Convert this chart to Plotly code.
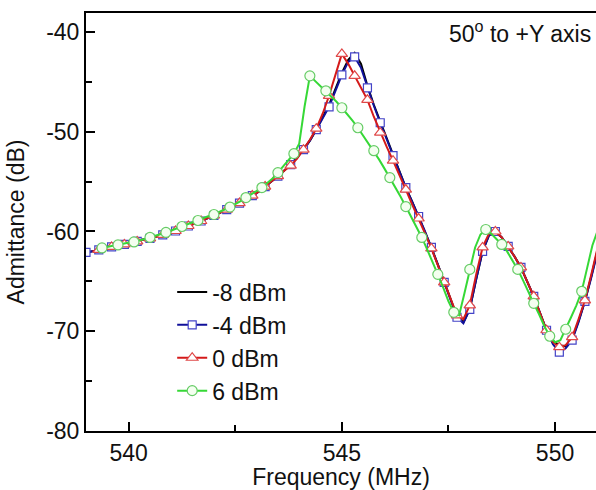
import plotly.graph_objects as go

# ---------------- data ----------------
# frequency sweep (MHz) used for -8, -4 and 0 dBm traces
freq_a = [539.00, 539.15, 539.30, 539.45, 539.60, 539.75, 539.90, 540.05, 540.20, 540.35,
          540.50, 540.65, 540.80, 540.95, 541.10, 541.25, 541.40, 541.55, 541.70, 541.85,
          542.00, 542.15, 542.30, 542.45, 542.60, 542.75, 542.90, 543.05, 543.20, 543.35,
          543.50, 543.65, 543.80, 543.95, 544.10, 544.25, 544.40, 544.55, 544.70, 544.85,
          545.00, 545.15, 545.30, 545.45, 545.60, 545.75, 545.90, 546.05, 546.20, 546.35,
          546.50, 546.65, 546.80, 546.95, 547.10, 547.25, 547.40, 547.55, 547.70, 547.85,
          548.00, 548.15, 548.30, 548.45, 548.60, 548.75, 548.90, 549.05, 549.20, 549.35,
          549.50, 549.65, 549.80, 549.95, 550.10, 550.25, 550.40, 550.55, 550.70, 550.85,
          551.00]

# frequency sweep (MHz) used for the 6 dBm trace
freq_b = [539.000, 539.125, 539.250, 539.375, 539.500, 539.625, 539.750, 539.875,
          540.000, 540.125, 540.250, 540.375, 540.500, 540.625, 540.750, 540.875,
          541.000, 541.125, 541.250, 541.375, 541.500, 541.625, 541.750, 541.875,
          542.000, 542.125, 542.250, 542.375, 542.500, 542.625, 542.750, 542.875,
          543.000, 543.125, 543.250, 543.375, 543.500, 543.625, 543.750, 543.875,
          544.000, 544.125, 544.250, 544.375, 544.500, 544.625, 544.750, 544.875,
          545.000, 545.125, 545.250, 545.375, 545.500, 545.625, 545.750, 545.875,
          546.000, 546.125, 546.250, 546.375, 546.500, 546.625, 546.750, 546.875,
          547.000, 547.125, 547.250, 547.375, 547.500, 547.625, 547.750, 547.875,
          548.000, 548.125, 548.250, 548.375, 548.500, 548.625, 548.750, 548.875,
          549.000, 549.125, 549.250, 549.375, 549.500, 549.625, 549.750, 549.875,
          550.000, 550.125, 550.250, 550.375, 550.500, 550.625, 550.750, 550.875,
          551.000]

adm_m8 = [-62.1, -62.0, -61.85, -61.7, -61.55, -61.4, -61.3, -61.15, -61.0, -60.85,
          -60.7, -60.5, -60.35, -60.15, -59.95, -59.7, -59.45, -59.2, -58.95, -58.7,
          -58.4, -58.1, -57.8, -57.5, -57.15, -56.8, -56.4, -56.0, -55.5, -55.0,
          -54.45, -53.9, -53.3, -52.6, -51.8, -50.9, -49.8, -48.6, -47.3, -45.7,
          -44.1, -42.8, -42.1, -43.2, -45.4, -47.3, -49.0, -50.7, -52.3, -53.9,
          -55.6, -57.0, -58.5, -60.0, -61.6, -63.3, -65.1, -66.9, -68.5, -69.1,
          -67.8, -64.8, -62.0, -60.4, -60.0, -60.6, -61.5, -62.5, -63.6, -65.0,
          -66.5, -68.2, -69.9, -71.0, -71.4, -71.5, -70.8, -69.0, -67.0, -64.5,
          -61.8]

adm_m4 = [-62.1, -62.0, -61.85, -61.7, -61.55, -61.4, -61.3, -61.15, -61.0, -60.85,
          -60.7, -60.5, -60.35, -60.15, -59.95, -59.7, -59.45, -59.2, -58.95, -58.7,
          -58.4, -58.1, -57.8, -57.5, -57.15, -56.8, -56.4, -56.0, -55.5, -55.0,
          -54.45, -53.9, -53.3, -52.6, -51.8, -50.9, -49.8, -48.7, -47.5, -45.9,
          -44.3, -43.0, -42.5, -43.6, -45.6, -47.4, -49.1, -50.8, -52.4, -54.0,
          -55.6, -57.0, -58.5, -60.0, -61.6, -63.3, -65.1, -66.9, -68.6, -69.2,
          -67.8, -64.8, -62.0, -60.4, -60.0, -60.6, -61.5, -62.5, -63.6, -65.0,
          -66.5, -68.2, -69.9, -71.3, -72.1, -71.7, -70.9, -69.1, -67.0, -64.6,
          -62.0]

# 0 dBm sweep starts one step later (539.15 MHz)
adm_0 = [-62.0, -61.85, -61.7, -61.55, -61.4, -61.3, -61.15, -61.0, -60.85,
         -60.7, -60.5, -60.35, -60.15, -59.95, -59.7, -59.45, -59.2, -58.95, -58.7,
         -58.4, -58.1, -57.8, -57.5, -57.15, -56.8, -56.4, -56.0, -55.5, -55.0,
         -54.45, -53.9, -53.4, -52.7, -51.8, -50.8, -49.7, -48.2, -46.4, -44.3,
         -42.2, -43.2, -44.4, -45.5, -46.8, -48.5, -50.1, -51.5, -52.9, -54.3,
         -55.8, -57.3, -58.7, -60.2, -61.7, -63.4, -65.1, -66.9, -68.4, -68.8,
         -67.4, -64.3, -61.6, -60.2, -60.0, -60.6, -61.5, -62.5, -63.6, -65.0,
         -66.5, -68.2, -69.9, -71.1, -71.6, -71.4, -70.6, -68.8, -66.9, -64.3,
         -61.6]

# 6 dBm sweep starts two steps later (539.25 MHz)
adm_6 = [-61.75, -61.65, -61.55, -61.45, -61.35, -61.25,
         -61.15, -61.05, -60.9, -60.75, -60.6, -60.45, -60.3, -60.1,
         -59.9, -59.7, -59.5, -59.3, -59.1, -58.9, -58.7, -58.5,
         -58.3, -58.05, -57.8, -57.55, -57.25, -56.95, -56.6, -56.3,
         -55.95, -55.6, -55.15, -54.7, -54.1, -53.5, -52.9, -52.2,
         -51.2, -47.5, -44.4, -44.9, -45.4, -45.9, -46.5, -47.0,
         -47.6, -48.2, -48.9, -49.6, -50.4, -51.1, -51.9, -52.8,
         -53.7, -54.6, -55.5, -56.5, -57.5, -58.5, -59.5, -60.6,
         -61.8, -63.0, -64.3, -65.6, -67.0, -68.1, -68.4, -66.2,
         -63.8, -61.6, -60.3, -59.8, -60.2, -60.7, -61.3, -62.0,
         -62.9, -63.8, -64.9, -66.1, -67.2, -68.3, -69.5, -70.5,
         -71.1, -70.9, -69.8, -68.6, -67.4, -66.0, -63.7, -61.4,
         -59.9]

series_names = ["-8 dBm", "-4 dBm", "0 dBm", "6 dBm"]

y_tickvals = [-80, -70, -60, -50, -40]
y_ticktext = ["-80", "-70", "-60", "-50", "-40"]
x_tickvals = [540, 545, 550]
x_ticktext = ["540", "545", "550"]

FONT = "Liberation Sans, Arial, sans-serif"

fig = go.Figure()

fig.add_trace(go.Scatter(
    x=freq_a, y=adm_m8, name=series_names[0], mode="lines",
    line=dict(color="#000000", width=2), legendrank=1, legendgroup="g1"))

fig.add_trace(go.Scatter(
    x=freq_a, y=adm_m4, name=series_names[1], mode="lines+markers",
    line=dict(color="#10109a", width=2),
    marker=dict(symbol="square", size=8, color="white", maxdisplayed=40,
                line=dict(color="#4444c8", width=1.2)),
    legendrank=2, legendgroup="g2"))

fig.add_trace(go.Scatter(
    x=freq_a[1:], y=adm_0, name=series_names[2], mode="lines+markers",
    line=dict(color="#d41a1a", width=2),
    marker=dict(symbol="triangle-up", size=10, color="white", maxdisplayed=40,
                line=dict(color="#e04848", width=1.2)),
    legendrank=3, legendgroup="g3"))

fig.add_trace(go.Scatter(
    x=freq_b[2:], y=adm_6, name=series_names[3], mode="lines+markers",
    line=dict(color="#36d836", width=2),
    marker=dict(symbol="circle", size=10, color="#f4fff0", maxdisplayed=32,
                line=dict(color="#66cc66", width=1.2)),
    legendrank=4, legendgroup="g4"))

fig.update_layout(
    width=596, height=490,
    margin=dict(l=86, r=0, t=13, b=59),
    paper_bgcolor="white", plot_bgcolor="white",
    font=dict(family=FONT, size=23, color="#111111"),
    showlegend=True,
    legend=dict(x=0.169, y=0.384, xanchor="left", yanchor="top",
                bgcolor="rgba(0,0,0,0)", borderwidth=0,
                font=dict(size=23), tracegroupgap=0, itemwidth=30),
    xaxis=dict(range=[539, 550.96], showgrid=False, zeroline=False,
               automargin=False,
               showline=True, linecolor="black", linewidth=2, mirror=True,
               ticks="inside", ticklen=9, tickwidth=2, tickcolor="black",
               tickvals=x_tickvals, ticktext=x_ticktext,
               tickfont=dict(size=23),
               minor=dict(ticks="inside", ticklen=6, tickwidth=2,
                          tickcolor="black", dtick=2.5, tick0=537.5),
               title=dict(text="Frequency (MHz)", font=dict(size=23))),
    yaxis=dict(range=[-80, -38.1], showgrid=False, zeroline=False,
               automargin=False,
               showline=True, linecolor="black", linewidth=2, mirror=False,
               ticks="inside", ticklen=9, tickwidth=2, tickcolor="black",
               tickvals=y_tickvals, ticktext=y_ticktext,
               tickfont=dict(size=23),
               minor=dict(ticks="inside", ticklen=6, tickwidth=2,
                          tickcolor="black", dtick=5, tick0=-85),
               title=dict(text="Admittance (dB)", font=dict(size=23))),
    annotations=[dict(text="50<sup>o</sup> to +Y axis", xref="paper", yref="paper",
                      x=0.994, y=0.995, xanchor="right", yanchor="top",
                      showarrow=False, font=dict(size=23))],
)

# remove the browser's default 8 px body margin so the figure fills the window
fig.write_html("out.html",
               config={"displayModeBar": False},
               post_script="document.body.style.margin='0px';document.body.style.overflow='hidden';")
